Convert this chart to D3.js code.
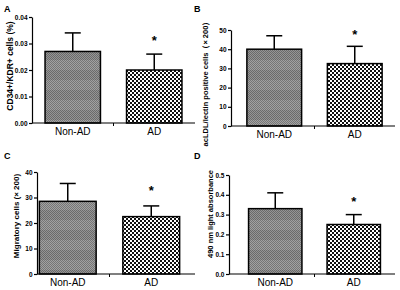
<!DOCTYPE html>
<html>
<head>
<meta charset="utf-8">
<script src="https://cdn.jsdelivr.net/npm/d3@7"></script>
<style>
  body { margin: 0; background: #fff; }
  svg { display: block; font-family: 'Liberation Sans', Arial, sans-serif; }
</style>
</head>
<body>
<svg id="chart"></svg>
<script>
// values
const groups = ['Non-AD', 'AD'];
const cd34Means = [0.027, 0.020];
const cd34Err = [0.007, 0.006];
const acldlMeans = [40, 32.5];
const acldlErr = [7, 9];
const migMeans = [28.5, 22.5];
const migErr = [7, 4.2];
const absMeans = [0.33, 0.25];
const absErr = [0.08, 0.05];
const cd34Ticks = [0, 0.01, 0.02, 0.03, 0.04];
const acldlTicks = [0, 10, 20, 30, 40, 50];
const migTicks = [0, 10, 20, 30, 40];
const absTicks = [0, 0.1, 0.2, 0.3, 0.4, 0.5];

const W = 400, H = 290;
const svg = d3.select('#chart').attr('width', W).attr('height', H);

const defs = svg.append('defs');
// fine grey dither with faint horizontal banding for Non-AD
const pg = defs.append('pattern').attr('id', 'grey').attr('patternUnits', 'userSpaceOnUse')
  .attr('width', 2).attr('height', 20);
pg.append('rect').attr('width', 2).attr('height', 20).attr('fill', '#a2a2a2');
pg.append('rect').attr('y', 10).attr('width', 2).attr('height', 10).attr('fill', '#959595');
for (let r = 0; r < 20; r++) {
  pg.append('rect').attr('x', r % 2).attr('y', r).attr('width', 1).attr('height', 1)
    .attr('fill', r < 10 ? '#767676' : '#6a6a6a');
}
// black/white checker for AD
const pc = defs.append('pattern').attr('id', 'check').attr('patternUnits', 'userSpaceOnUse')
  .attr('width', 4).attr('height', 4);
pc.append('rect').attr('width', 4).attr('height', 4).attr('fill', '#fff');
pc.append('rect').attr('width', 2).attr('height', 2).attr('fill', '#111');
pc.append('rect').attr('x', 2).attr('y', 2).attr('width', 2).attr('height', 2).attr('fill', '#111');

const fills = ['url(#grey)', 'url(#check)'];

const drawPanel = (p) => {
  const g = svg.append('g');
  const x = d3.scaleBand().domain(groups).range(p.xRange).paddingInner(0.32).paddingOuter(0.16);
  const y = d3.scaleLinear().domain([0, p.ticks[p.ticks.length - 1]]).range([p.yBottom, p.yTop]);

  g.append('text').text(p.letter).attr('x', p.letterX).attr('y', p.letterY)
    .attr('font-size', 9).attr('font-weight', 'bold');

  g.append('text').text(p.label)
    .attr('transform', 'translate(' + p.labelX + ',' + p.labelY + ') rotate(-90)')
    .attr('text-anchor', 'middle').attr('font-size', p.labelSize).attr('font-weight', 'bold');

  // bars
  g.selectAll('rect.bar').data(p.means).enter().append('rect')
    .attr('class', 'bar')
    .attr('x', (d, i) => x(groups[i]))
    .attr('width', x.bandwidth())
    .attr('y', (d) => y(d))
    .attr('height', (d) => y(0) - y(d))
    .attr('fill', (d, i) => fills[i])
    .attr('stroke', '#000').attr('stroke-width', 1.5);

  // upper error bars
  p.means.forEach((m, i) => {
    const cx = x(groups[i]) + x.bandwidth() / 2;
    g.append('line').attr('x1', cx).attr('x2', cx).attr('y1', y(m)).attr('y2', y(m + p.err[i]))
      .attr('stroke', '#000').attr('stroke-width', 1.5);
    g.append('line').attr('x1', cx - 8).attr('x2', cx + 8).attr('y1', y(m + p.err[i])).attr('y2', y(m + p.err[i]))
      .attr('stroke', '#000').attr('stroke-width', 1.5);
  });

  // significance star
  g.append('text').text('*')
    .attr('x', x('AD') + x.bandwidth() / 2)
    .attr('y', y(p.means[1] + p.err[1]) - p.starGap)
    .attr('text-anchor', 'middle').attr('font-size', 13).attr('font-weight', 'bold');

  // y axis
  const yAxis = g.append('g').attr('transform', 'translate(' + p.axisX + ',0)')
    .call(d3.axisLeft(y).tickValues(p.ticks).tickSize(3).tickSizeOuter(0)
      .tickFormat(p.fmt));
  yAxis.select('.domain').attr('stroke-width', 1.2);
  yAxis.selectAll('.tick line').attr('stroke-width', 1.2);
  yAxis.selectAll('text').attr('font-size', 6.5).attr('font-weight', 'bold')
    .attr('font-family', "'Liberation Sans', Arial, sans-serif").attr('dx', 1.5);

  // x axis
  g.append('line').attr('x1', p.axisX).attr('x2', p.xEnd).attr('y1', y(0)).attr('y2', y(0))
    .attr('stroke', '#000').attr('stroke-width', 1.2);
  const mid = x(groups[1]) - x.step() * x.paddingInner() / 2;
  g.append('line').attr('x1', mid).attr('x2', mid).attr('y1', y(0)).attr('y2', y(0) + 3)
    .attr('stroke', '#000').attr('stroke-width', 1);
  g.selectAll('text.cat').data(groups).enter().append('text')
    .attr('class', 'cat').text((d) => d)
    .attr('x', (d) => x(d) + x.bandwidth() / 2)
    .attr('y', y(0) + 12)
    .attr('text-anchor', 'middle').attr('font-size', 10);
};

drawPanel({
  letter: 'A', letterX: 4, letterY: 12,
  label: 'CD34+/KDR+ cells (%)', labelX: 13, labelY: 66, labelSize: 8.5,
  means: cd34Means, err: cd34Err, ticks: cd34Ticks, fmt: d3.format('.2f'),
  axisX: 32, xRange: [32, 195], xEnd: 195, yTop: 17, yBottom: 123, starGap: 9
});
drawPanel({
  letter: 'B', letterX: 194, letterY: 12,
  label: 'acLDL/lectin positive cells（× 200）', labelX: 208, labelY: 82, labelSize: 7.5,
  means: acldlMeans, err: acldlErr, ticks: acldlTicks, fmt: d3.format('d'),
  axisX: 231, xRange: [234, 395], xEnd: 395, yTop: 30, yBottom: 126, starGap: 7
});
drawPanel({
  letter: 'C', letterX: 4, letterY: 159,
  label: 'Migratory cells (× 200)', labelX: 19, labelY: 216, labelSize: 8,
  means: migMeans, err: migErr, ticks: migTicks, fmt: d3.format('d'),
  axisX: 37, xRange: [26, 193], xEnd: 195, yTop: 172, yBottom: 274, starGap: 11
});
drawPanel({
  letter: 'D', letterX: 194, letterY: 159,
  label: '490 nm light absorbance', labelX: 213, labelY: 214, labelSize: 7.5,
  means: absMeans, err: absErr, ticks: absTicks, fmt: d3.format('.1f'),
  axisX: 229, xRange: [236, 393], xEnd: 395, yTop: 175, yBottom: 274, starGap: 9
});
</script>
</body>
</html>
